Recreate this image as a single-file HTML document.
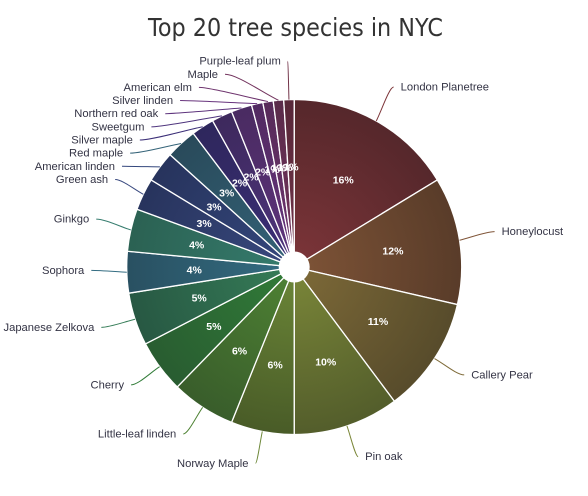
<!DOCTYPE html>
<html>
<head>
<meta charset="utf-8">
<title>Top 20 tree species in NYC</title>
<style>
html,body{margin:0;padding:0;background:#fff;}
svg{display:block;}
text{font-family:"Liberation Sans",sans-serif;}
</style>
</head>
<body>
<svg id="chart" xmlns="http://www.w3.org/2000/svg" width="588" height="496" viewBox="0 0 588 496">
<rect width="588" height="496" fill="#ffffff"/>
<text x="148" y="36" textLength="295" lengthAdjust="spacingAndGlyphs" style="font-family:'DejaVu Sans',sans-serif;font-size:24.5px;fill:#333333">Top 20 tree species in NYC</text>
<defs id="gradients"></defs>
<g id="slices"></g>
<g id="connectors"></g>
<g id="names"></g>
<g id="percents"></g>
<circle cx="294.2" cy="267" r="15.5" fill="#ffffff"/>
</svg>
<script>
const species = ["London Planetree","Honeylocust","Callery Pear","Pin oak","Norway Maple","Little-leaf linden","Cherry","Japanese Zelkova","Sophora","Ginkgo","Green ash","American linden","Red maple","Silver maple","Sweetgum","Northern red oak","Silver linden","American elm","Maple","Purple-leaf plum"];
const shares = [16.3,12.3,11.2,10.2,6.1,6.2,5.1,5.1,4.0,4.1,3.1,3.0,3.0,2.2,2.0,2.0,1.1,1.0,1.0,1.0];
const innerPalette = ["#7d3539","#7f5437","#7e6a38","#7b8739","#6c8738","#4f8334","#317c38","#367d58","#346d82","#367c6e","#39497f","#34477d","#346378","#3c2f78","#4e347d","#5e347d","#68347d","#6e346e","#73345e","#733449"];
const outerPalette = ["#52262a","#563a28","#54492a","#505a2a","#465826","#375a2a","#285a30","#265541","#284e5f","#2a5f50","#26325a","#26325a","#284858","#2d265a","#3c285a","#482a5f","#502a5f","#552a58","#582a48","#552637"];

const NS = "http://www.w3.org/2000/svg";
const cx = 294.2, cy = 267, R = 167.5;

function shareToAngle(s){ const t = shares.reduce((a,b)=>a+b,0); return s / t * 2 * Math.PI; }
function polarX(a, r){ return cx + Math.sin(a) * r; }
function polarY(a, r){ return cy - Math.cos(a) * r; }
function mk(tag, attrs){
  const el = document.createElementNS(NS, tag);
  for (const k in attrs) el.setAttribute(k, attrs[k]);
  return el;
}
function slug(s){ return s.toLowerCase().replace(/[^a-z]+/g, "-"); }

const defs = document.getElementById("gradients");
const gSlices = document.getElementById("slices");
const gConn = document.getElementById("connectors");
const gNames = document.getElementById("names");
const gPct = document.getElementById("percents");

const labelCy = 264, labelR = 203, rowGap = 13.15;
let cum = 0;
const mids = [];
shares.forEach((v, i) => {
  const a0 = shareToAngle(cum), a1 = shareToAngle(cum + v);
  cum += v;
  const mid = (a0 + a1) / 2;
  mids.push(mid);

  const grad = mk("radialGradient", {id:"g"+i, gradientUnits:"userSpaceOnUse", cx:cx, cy:cy, r:R * 1.08});
  grad.appendChild(mk("stop", {offset:"0", "stop-color":innerPalette[i]}));
  grad.appendChild(mk("stop", {offset:"1", "stop-color":outerPalette[i]}));
  defs.appendChild(grad);

  const large = a1 - a0 > Math.PI ? 1 : 0;
  const d = `M${cx} ${cy}L${polarX(a0,R)} ${polarY(a0,R)}A${R} ${R} 0 ${large} 1 ${polarX(a1,R)} ${polarY(a1,R)}Z`;
  const path = mk("path", {d:d, fill:`url(#g${i})`, stroke:"#ffffff", "stroke-width":"1.3", "stroke-linejoin":"round"});
  
  
  gSlices.appendChild(path);

  const pct = mk("text", {x:polarX(mid,100), y:polarY(mid,100)+3.5, "text-anchor":"middle", fill:"#ffffff", "font-size":"10.5", "font-weight":"bold"});
  pct.textContent = Math.round(v) + "%";
  
  
  gPct.appendChild(pct);
});

/* label layout: natural position on a circle, then stack the crowded left-top rows downward */
const ys = mids.map(m => labelCy - Math.cos(m) * labelR);
const stacked = mids.map(() => false);
let prevY = -Infinity;
for (let i = shares.length - 1; i >= 0; i--) {
  if (Math.sin(mids[i]) >= 0) break;
  if (ys[i] < prevY + rowGap) { ys[i] = prevY + rowGap; stacked[i] = true; }
  prevY = ys[i];
}

species.forEach((name, i) => {
  const m = mids[i], side = Math.sin(m) >= 0 ? 1 : -1;
  const y = ys[i];
  let x;
  if (stacked[i]) {
    const dy = Math.abs(y - labelCy);
    const r = 198 + Math.max(0, dy - 150) * 0.1;
    x = cx + side * Math.sqrt(Math.max(0, r * r - dy * dy));
  } else {
    x = cx + Math.sin(m) * labelR;
  }
  const p4x = polarX(m, R), p4y = polarY(m, R);
  const c1x = x - side * Math.min(12, Math.abs(x - p4x) * 0.25);
  const c2x = p4x + (x - p4x) * 0.3, c2y = p4y + (y - p4y) * 0.3;
  const d = `M${x} ${y}C${c1x} ${y} ${c2x} ${c2y} ${p4x} ${p4y}`;
  const line = mk("path", {d:d, fill:"none", stroke:innerPalette[i], "stroke-width":"1"});
  
  
  gConn.appendChild(line);

  const t = mk("text", {x:x + side * 7, y:y + 3.5, "text-anchor": side > 0 ? "start" : "end", fill:"#333344", "font-size":"11.2"});
  t.textContent = name;
  
  
  gNames.appendChild(t);
});
</script>
</body>
</html>
